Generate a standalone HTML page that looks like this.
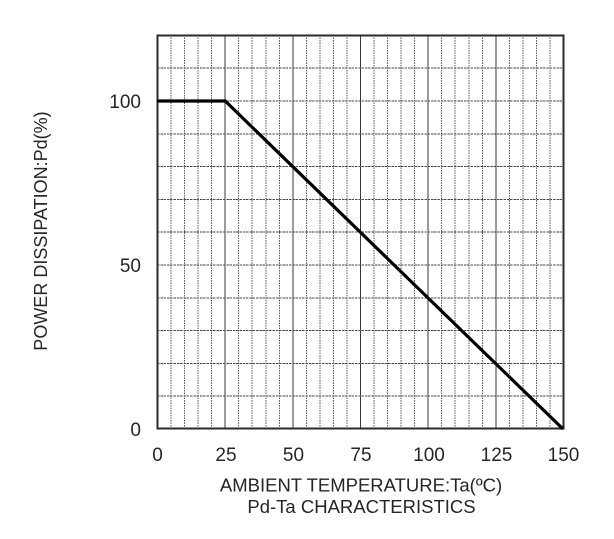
<!DOCTYPE html>
<html>
<head>
<meta charset="utf-8">
<style>
  html, body { margin:0; padding:0; background:#fff; }
  svg { display:block; }
  text { font-family: "Liberation Sans", Arial, sans-serif; fill:#262626; }
</style>
</head>
<body>
<svg width="614" height="539" viewBox="0 0 614 539" xmlns="http://www.w3.org/2000/svg">
  <rect width="614" height="539" fill="#fff"/>
  <g id="grid" stroke-width="1" shape-rendering="crispEdges">
    <!-- minor vertical lines every 5 units -->
    <g stroke="#5a5a5a" stroke-dasharray="1.5,1">
      <line x1="171.03" y1="35" x2="171.03" y2="429"/>
      <line x1="184.57" y1="35" x2="184.57" y2="429"/>
      <line x1="198.1" y1="35" x2="198.1" y2="429"/>
      <line x1="211.63" y1="35" x2="211.63" y2="429"/>
      <line x1="238.7" y1="35" x2="238.7" y2="429"/>
      <line x1="252.23" y1="35" x2="252.23" y2="429"/>
      <line x1="265.77" y1="35" x2="265.77" y2="429"/>
      <line x1="279.3" y1="35" x2="279.3" y2="429"/>
      <line x1="306.37" y1="35" x2="306.37" y2="429"/>
      <line x1="319.9" y1="35" x2="319.9" y2="429"/>
      <line x1="333.43" y1="35" x2="333.43" y2="429"/>
      <line x1="346.97" y1="35" x2="346.97" y2="429"/>
      <line x1="374.03" y1="35" x2="374.03" y2="429"/>
      <line x1="387.57" y1="35" x2="387.57" y2="429"/>
      <line x1="401.1" y1="35" x2="401.1" y2="429"/>
      <line x1="414.63" y1="35" x2="414.63" y2="429"/>
      <line x1="441.7" y1="35" x2="441.7" y2="429"/>
      <line x1="455.23" y1="35" x2="455.23" y2="429"/>
      <line x1="468.77" y1="35" x2="468.77" y2="429"/>
      <line x1="482.3" y1="35" x2="482.3" y2="429"/>
      <line x1="509.37" y1="35" x2="509.37" y2="429"/>
      <line x1="522.9" y1="35" x2="522.9" y2="429"/>
      <line x1="536.43" y1="35" x2="536.43" y2="429"/>
      <line x1="549.97" y1="35" x2="549.97" y2="429"/>
    </g>
    <!-- major vertical lines every 25 units -->
    <g stroke="#3a3a3a">
      <line x1="225.17" y1="35" x2="225.17" y2="429"/>
      <line x1="292.83" y1="35" x2="292.83" y2="429"/>
      <line x1="360.5" y1="35" x2="360.5" y2="429"/>
      <line x1="428.17" y1="35" x2="428.17" y2="429"/>
      <line x1="495.83" y1="35" x2="495.83" y2="429"/>
    </g>
    <!-- horizontal lines every 10 units -->
    <g stroke="#4a4a4a" stroke-dasharray="2.5,0.8">
      <line x1="157" y1="68.2" x2="563" y2="68.2"/>
      <line x1="157" y1="101" x2="563" y2="101"/>
      <line x1="157" y1="133.8" x2="563" y2="133.8"/>
      <line x1="157" y1="166.6" x2="563" y2="166.6"/>
      <line x1="157" y1="199.4" x2="563" y2="199.4"/>
      <line x1="157" y1="232.2" x2="563" y2="232.2"/>
      <line x1="157" y1="265" x2="563" y2="265"/>
      <line x1="157" y1="297.8" x2="563" y2="297.8"/>
      <line x1="157" y1="330.6" x2="563" y2="330.6"/>
      <line x1="157" y1="363.4" x2="563" y2="363.4"/>
      <line x1="157" y1="396.2" x2="563" y2="396.2"/>
    </g>
    <!-- border -->
    <rect x="157.5" y="35.5" width="406" height="393" fill="none" stroke="#2a2a2a" stroke-width="1.8"/>
    <line x1="157.5" y1="35" x2="157.5" y2="429" stroke="#2a2a2a" stroke-width="2.4"/>
  </g>

  <!-- curve -->
  <polyline points="157,101 225.2,101 563,429" fill="none" stroke="#000" stroke-width="3.2" stroke-linejoin="miter"/>

  <!-- y tick labels -->
  <g font-size="19" text-anchor="end">
    <text x="141" y="108">100</text>
    <text x="141" y="272">50</text>
    <text x="141" y="436">0</text>
  </g>
  <!-- x tick labels -->
  <g font-size="19" text-anchor="middle">
    <text x="157.5" y="461">0</text>
    <text x="226" y="461">25</text>
    <text x="293.5" y="461">50</text>
    <text x="361" y="461">75</text>
    <text x="429" y="461">100</text>
    <text x="496.5" y="461">125</text>
    <text x="563.5" y="461">150</text>
  </g>

  <!-- axis titles -->
  <g font-size="18.5" text-anchor="middle">
    <text x="361" y="491.5">AMBIENT TEMPERATURE:Ta(ºC)</text>
    <text x="361.5" y="513">Pd-Ta CHARACTERISTICS</text>
  </g>
  <text font-size="18" text-anchor="middle" transform="translate(47,231) rotate(-90)">POWER DISSIPATION:Pd(%)</text>
</svg>
</body>
</html>
